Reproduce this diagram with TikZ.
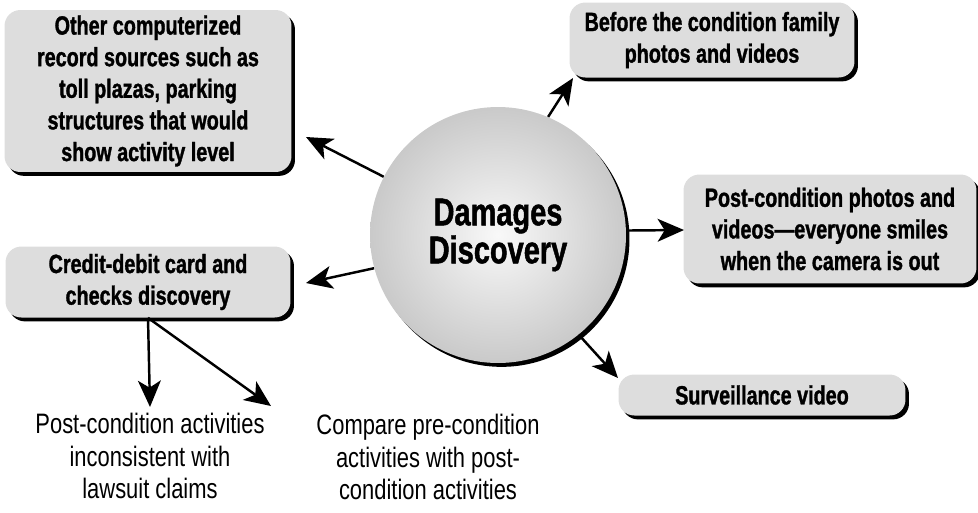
\documentclass[tikz,border=0pt]{standalone}
\usepackage{fontspec}
\newfontfamily\boxfont{Liberation Sans}[FakeStretch=0.75, BoldFeatures={FakeBold=1.2}]
\newfontfamily\notefont{Liberation Sans}[FakeStretch=0.78]
\usetikzlibrary{arrows.meta, shapes, shadows, positioning}

\begin{document}
\begin{tikzpicture}[x=0.02cm, y=-0.02cm]
  \tikzstyle{fleche}=[-{Stealth[length=15pt,width=13pt,inset=4pt]}, line width=1.4pt]
  \tikzstyle{boite}=[fill=gray!27, rounded corners=9pt, align=center, inner sep=2pt,
    font=\boxfont\bfseries\fontsize{15}{18}\selectfont,
    drop shadow={fill=black, shadow xshift=2pt, shadow yshift=-2.2pt, opacity=1}]
  \tikzstyle{note}=[align=center, font=\notefont\fontsize{16}{18.5}\selectfont]
  \useasboundingbox (0,0) rectangle (978,512);
  % the hub
  \node[circle, minimum size=5.12cm, inner color=gray!5, outer color=gray!42,
    drop shadow={fill=black, shadow xshift=2pt, shadow yshift=-2.2pt, opacity=1},
    align=center, font=\boxfont\bfseries\fontsize{22}{19.5}\selectfont] (dd) at (498,235)
    {Damages\\Discovery};
  % the boxes
  \node[boite, minimum width=5.74cm, minimum height=3.24cm] (other) at (148,91)
    {Other computerized\\record sources such as\\toll plazas, parking\\structures that would\\show activity level};
  \node[boite, minimum width=5.7cm, minimum height=1.5cm] (before) at (712,40)
    {Before the condition family\\photos and videos};
  \node[boite, minimum width=5.86cm, minimum height=2.18cm] (post) at (830,229)
    {Post-condition photos and\\videos—everyone smiles\\when the camera is out};
  \node[boite, minimum width=5.7cm, minimum height=1.42cm] (credit) at (148,282)
    {Credit-debit card and\\checks discovery};
  \node[boite, minimum width=5.74cm, minimum height=0.82cm] (surv) at (762,395)
    {Surveillance video};
  % plain texts
  \node[note] (incons) at (150,456)
    {Post-condition activities\\inconsistent with\\lawsuit claims};
  \node[note] (compare) at (428,457)
    {Compare pre-condition\\activities with post-\\condition activities};
  % arrow tips
  \coordinate (tother) at (306,137);
  \coordinate (tbefore) at (573,78);
  \coordinate (tpost) at (684,230);
  \coordinate (tcredit) at (306,283);
  \coordinate (tsurv) at (618,378);
  \coordinate (tcompare) at (271,406);
  \draw[fleche] (dd.153) -- (tother);
  \draw[fleche] (dd.67) -- (tbefore);
  \draw[fleche] (dd.2) -- (tpost);
  \draw[fleche] (dd.195) -- (tcredit);
  \draw[fleche] (dd.-51) -- (tsurv);
  \draw[fleche] (credit.south) -- (incons.north);
  \draw[fleche] (credit.south) -- (tcompare);
\end{tikzpicture}
\end{document}
